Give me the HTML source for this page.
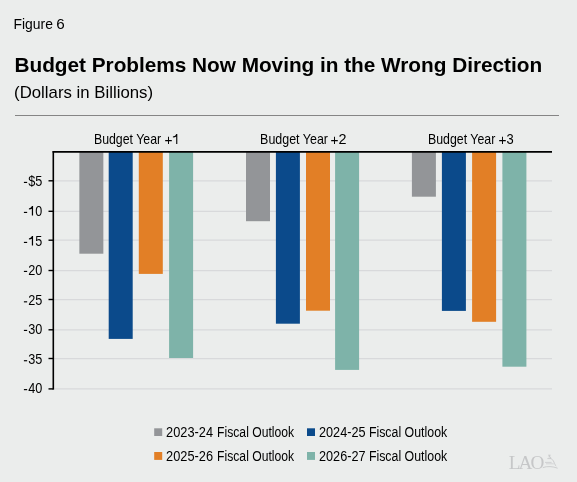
<!DOCTYPE html>
<html><head><meta charset="utf-8">
<style>
html,body{margin:0;padding:0;}
body{width:577px;height:482px;background:#ebedec;position:relative;overflow:hidden;font-family:"Liberation Sans",sans-serif;color:#000;}
#wrap{position:absolute;left:0;top:0;width:577px;height:482px;will-change:transform;}
svg{position:absolute;left:0;top:0;}
text{font-family:"Liberation Sans",sans-serif;}
</style></head><body><div id="wrap">
<svg width="577" height="482">
  <text x="13.5" y="28.8" font-size="14.6" textLength="39.4" lengthAdjust="spacingAndGlyphs">Figure</text>
  <text x="56.3" y="28.8" font-size="14.6" textLength="8.5" lengthAdjust="spacingAndGlyphs">6</text>
  <text x="14.5" y="71.7" font-size="20.8" font-weight="bold" textLength="527.6" lengthAdjust="spacing">Budget Problems Now Moving in the Wrong Direction</text>
  <text x="14.05" y="97.7" font-size="17" textLength="139" lengthAdjust="spacingAndGlyphs">(Dollars in Billions)</text>
  <rect x="15" y="115" width="544" height="1" fill="#858585"/>
  <g stroke="#d8d9db" stroke-width="1.25">
    <line x1="54" y1="180.80" x2="552" y2="180.80"/><line x1="54" y1="211.30" x2="552" y2="211.30"/><line x1="54" y1="240.20" x2="552" y2="240.20"/><line x1="54" y1="270.50" x2="552" y2="270.50"/><line x1="54" y1="299.50" x2="552" y2="299.50"/><line x1="54" y1="329.80" x2="552" y2="329.80"/><line x1="54" y1="358.50" x2="552" y2="358.50"/><line x1="54" y1="388.90" x2="552" y2="388.90"/>
  </g>
  <rect x="79.35" y="152.0" width="24" height="101.70" fill="#939598"/><rect x="108.70" y="152.0" width="24" height="186.90" fill="#0b4a8b"/><rect x="138.80" y="152.0" width="24" height="121.90" fill="#e27f26"/><rect x="169.10" y="152.0" width="24" height="206.00" fill="#7eb3a9"/><rect x="246.00" y="152.0" width="24" height="69.20" fill="#939598"/><rect x="275.90" y="152.0" width="24" height="171.70" fill="#0b4a8b"/><rect x="306.00" y="152.0" width="24" height="158.70" fill="#e27f26"/><rect x="335.10" y="152.0" width="24" height="217.90" fill="#7eb3a9"/><rect x="411.90" y="152.0" width="24" height="44.70" fill="#939598"/><rect x="441.90" y="152.0" width="24" height="158.90" fill="#0b4a8b"/><rect x="472.10" y="152.0" width="24" height="169.80" fill="#e27f26"/><rect x="502.40" y="152.0" width="24" height="214.70" fill="#7eb3a9"/>
  <line x1="53.3" y1="151.1" x2="53.3" y2="389.7" stroke="#000" stroke-width="1.6"/>
  <line x1="52.6" y1="151.9" x2="552" y2="151.9" stroke="#000" stroke-width="1.6"/>
  <g stroke="#000" stroke-width="1.4">
    <line x1="48.5" y1="180.80" x2="53" y2="180.80"/><line x1="48.5" y1="211.30" x2="53" y2="211.30"/><line x1="48.5" y1="240.20" x2="53" y2="240.20"/><line x1="48.5" y1="270.50" x2="53" y2="270.50"/><line x1="48.5" y1="299.50" x2="53" y2="299.50"/><line x1="48.5" y1="329.80" x2="53" y2="329.80"/><line x1="48.5" y1="358.50" x2="53" y2="358.50"/><line x1="48.5" y1="388.90" x2="53" y2="388.90"/>
  </g>
  <g font-size="14" fill="#000">
    <rect x="23.9" y="181.85" width="3.25" height="1.15"/><text x="28.3" y="185.60" textLength="14.1" lengthAdjust="spacingAndGlyphs">$5</text><rect x="23.9" y="211.85" width="3.25" height="1.15"/><path d="M33.07 215.60 V206.10 H32.0 Q31.4 207.90 28.9 208.50 V209.60 Q30.9 209.40 31.85 208.70 V215.60 Z"/><text x="35.15" y="215.60" textLength="7.0" lengthAdjust="spacingAndGlyphs">0</text><rect x="23.9" y="241.85" width="3.25" height="1.15"/><path d="M33.07 245.60 V236.10 H32.0 Q31.4 237.90 28.9 238.50 V239.60 Q30.9 239.40 31.85 238.70 V245.60 Z"/><text x="35.15" y="245.60" textLength="7.0" lengthAdjust="spacingAndGlyphs">5</text><rect x="23.9" y="270.85" width="3.25" height="1.15"/><text x="28.3" y="274.60" textLength="14.1" lengthAdjust="spacingAndGlyphs">20</text><rect x="23.9" y="301.25" width="3.25" height="1.15"/><text x="28.3" y="305.00" textLength="14.1" lengthAdjust="spacingAndGlyphs">25</text><rect x="23.9" y="329.85" width="3.25" height="1.15"/><text x="28.3" y="333.60" textLength="14.1" lengthAdjust="spacingAndGlyphs">30</text><rect x="23.9" y="360.15" width="3.25" height="1.15"/><text x="28.3" y="363.90" textLength="14.1" lengthAdjust="spacingAndGlyphs">35</text><rect x="23.9" y="389.05" width="3.25" height="1.15"/><text x="28.3" y="392.80" textLength="14.1" lengthAdjust="spacingAndGlyphs">40</text>
  </g>
  <g font-size="14.2" fill="#000">
    <text x="93.9" y="143.9" textLength="67.3" lengthAdjust="spacingAndGlyphs">Budget Year</text>
    <text x="164.5" y="144.8" textLength="8.0" lengthAdjust="spacingAndGlyphs">+</text>
    <path d="M177.3 143.9 V134.1 H176.3 Q175.7 136.1 172.9 136.6 V137.6 Q175.2 137.4 176.2 136.6 V143.9 Z" fill="#000"/>
    <text x="260.1" y="143.9" textLength="67.9" lengthAdjust="spacingAndGlyphs">Budget Year</text>
    <text x="330.5" y="144.8" textLength="8.0" lengthAdjust="spacingAndGlyphs">+</text>
    <text x="338.4" y="143.9" textLength="8.0" lengthAdjust="spacingAndGlyphs">2</text>
    <text x="428.0" y="143.9" textLength="67.3" lengthAdjust="spacingAndGlyphs">Budget Year</text>
    <text x="498.5" y="144.8" textLength="8.0" lengthAdjust="spacingAndGlyphs">+</text>
    <text x="506.4" y="143.9" textLength="7.2" lengthAdjust="spacingAndGlyphs">3</text>
  </g>
  <rect x="154.2" y="428.3" width="8" height="7.7" fill="#939598"/>
  <rect x="307.0" y="428.3" width="8" height="7.7" fill="#0b4a8b"/>
  <rect x="154.2" y="452.0" width="8" height="7.9" fill="#e27f26"/>
  <rect x="307.0" y="452.0" width="8" height="7.9" fill="#7eb3a9"/>
  <g font-size="14" fill="#000">
    <text x="166.1" y="437.0" textLength="46.9" lengthAdjust="spacingAndGlyphs">2023-24</text>
    <text x="217.1" y="437.0" textLength="77.0" lengthAdjust="spacingAndGlyphs">Fiscal Outlook</text>
    <text x="319.0" y="437.0" textLength="46.5" lengthAdjust="spacingAndGlyphs">2024-25</text>
    <text x="368.9" y="437.0" textLength="78.3" lengthAdjust="spacingAndGlyphs">Fiscal Outlook</text>
    <text x="166.1" y="460.8" textLength="46.9" lengthAdjust="spacingAndGlyphs">2025-26</text>
    <text x="217.1" y="460.8" textLength="77.0" lengthAdjust="spacingAndGlyphs">Fiscal Outlook</text>
    <text x="319.0" y="460.8" textLength="46.5" lengthAdjust="spacingAndGlyphs">2026-27</text>
    <text x="368.9" y="460.8" textLength="78.3" lengthAdjust="spacingAndGlyphs">Fiscal Outlook</text>
  </g>
  <text x="508.8" y="468.8" font-family="Liberation Serif" font-size="19.2" fill="#c6c7c8" textLength="35.6" lengthAdjust="spacing" style="font-family:'Liberation Serif',serif">LAO</text>
  <g fill="none" stroke="#c4c5c7" stroke-width="0.8">
    <path d="M548.2 455.2 h2.4 M549.4 455.2 v1.8 M548.6 457 h1.8 L551 458.6 M547.4 458.6 h3.8"/>
    <path d="M551.2 458.6 Q553.8 460.6 554.6 463.6 Q555.4 465.6 556.2 466.2"/>
    <path d="M545 462.4 h6.6" stroke-width="0.7"/>
    <path d="M546 463.8 h7.8" stroke-width="0.6"/>
    <path d="M542.8 467.6 Q546 466.4 550 466.6 Q554 466.8 557.6 468.2"/>
  </g>
</svg>
</div></body></html>
